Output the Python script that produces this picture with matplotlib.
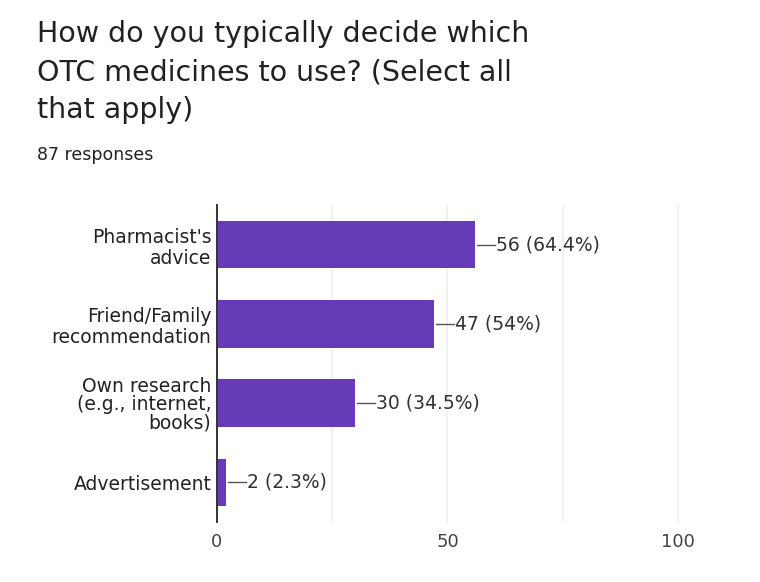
import matplotlib
matplotlib.use("Agg")
import matplotlib.pyplot as plt
from matplotlib.transforms import offset_copy
from matplotlib.lines import Line2D

categories = ["Pharmacist's\nadvice", "Friend/Family\nrecommendation",
              "Own research\n(e.g., internet,\nbooks)", "Advertisement"]
counts = [56, 47, 30, 2]
labels = ["56 (64.4%)", "47 (54%)", "30 (34.5%)", "2 (2.3%)"]
xticks = [0, 50, 100]
title_lines = ["How do you typically decide which",
               "OTC medicines to use? (Select all",
               "that apply)"]
subtitle = "87 responses"

plt.rcParams['font.family'] = ['DejaVu Sans']

fig = plt.figure(figsize=(7.6, 5.82), dpi=100)
ax = fig.add_axes([0.2855, 0.103, 0.6065, 0.545])

y = list(range(len(categories)))
ax.barh(y, counts, height=0.6, color="#673ab7", zorder=3)
ax.set_ylim(3.5, -0.5)
ax.set_xlim(0, 100)
ax.set_xticks(xticks)
ax.set_xticks([25, 75], minor=True)
ax.grid(axis='x', which='both', color='#efefef', linewidth=1.2, zorder=0)
ax.tick_params(axis='x', which='both', length=0, pad=8, labelsize=13, labelcolor='#444444')
ax.set_yticks(y)
ax.set_yticklabels(categories, fontsize=13.5, color='#222222', linespacing=1.15)
ax.get_yticklabels()[2].set_linespacing(0.95)
ax.tick_params(axis='y', length=0, pad=4)
for s in ['top', 'right', 'bottom']:
    ax.spines[s].set_visible(False)
ax.spines['left'].set_color('#333333')
ax.spines['left'].set_linewidth(1.4)
ax.spines['left'].set_zorder(4)

fig.canvas.draw()
for gl in ax.xaxis.get_gridlines():
    gl.set_clip_on(False)
inv = fig.transFigure.inverted()
for yi, c, lab in zip(y, counts, labels):
    disp = ax.transData.transform((c, yi))
    p1 = inv.transform((disp[0] + 2, disp[1]))
    p2 = inv.transform((disp[0] + 20, disp[1]))
    fig.add_artist(Line2D([p1[0], p2[0]], [p1[1], p2[1]], color='#555555', linewidth=1))
    t2 = offset_copy(ax.transData, fig=fig, x=21, y=0, units='dots')
    ax.text(c, yi, lab, transform=t2, va='center', ha='left', fontsize=13.5, color='#333333')

for i, line in enumerate(title_lines):
    fig.text(0.049, 1 - (34 + 38 * i) / 582, line,
             fontsize=20.5, color='#202124', va='center', ha='left')
fig.text(0.049, 1 - 155 / 582, subtitle, fontsize=12.5, color='#202124', va='center', ha='left')

fig.savefig("out.png", dpi=100, facecolor='white')
